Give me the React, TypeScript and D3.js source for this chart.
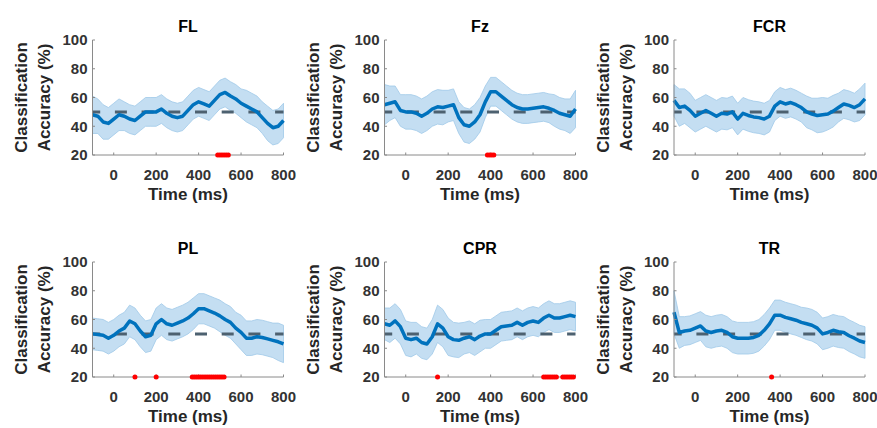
import React from 'react';
import * as d3 from 'd3';

// time grid of the classifier (ms)
const times = [-100, -75, -50, -25, 0, 25, 50, 75, 100, 125, 150, 175, 200, 225, 250, 275, 300, 325, 350,
  375, 400, 425, 450, 475, 500, 525, 550, 575, 600, 625, 650, 675, 700, 725, 750, 775, 800];

const names = ['FL', 'Fz', 'FCR', 'PL', 'CPR', 'TR'];

// mean accuracy (%)
const meanFL = [48, 47, 43, 42, 45, 48, 47, 45, 44, 47, 50, 50, 50, 52, 49, 47, 46, 47, 51,
  55, 57, 55.5, 54, 58, 62, 63.5, 61, 59, 56, 54, 52, 50, 46, 42, 39, 40, 44];
const meanFz = [55, 56, 57, 51, 50, 50, 49, 47, 49, 52, 53.5, 53, 54, 55, 46, 41, 40, 43, 48,
  57, 64, 64, 61, 58, 55, 53, 52, 52, 52.5, 53, 53.5, 52.5, 51, 49, 48, 47, 52];
const meanFCR = [58, 53, 54, 51, 47, 49, 51, 49, 47, 49, 48.5, 50, 45, 49, 47.5, 46.5, 46, 45, 47,
  54, 57, 55.5, 56.5, 55, 53, 50, 48.5, 47.5, 48, 48.5, 50.5, 53, 55.5, 54.5, 53, 55, 59];
const meanPL = [50, 49.5, 49, 47, 49, 52, 54, 59, 57, 52, 48, 49, 57, 60, 57, 56, 57.5, 59, 61,
  64, 67.5, 67.5, 66, 64.5, 62.5, 60, 58, 54, 51, 47, 47, 48, 47.5, 46.5, 45.5, 44.5, 43];
const meanCPR = [57, 56, 59, 55, 47, 46, 47, 44, 43, 48, 57, 54, 48, 46, 45.5, 47, 48, 46, 48.5,
  50, 50, 52.5, 55, 55.5, 56, 58, 56, 58, 59, 58, 61, 63, 61, 61, 62, 63, 62];
const meanTR = [65, 51, 52, 52.5, 54, 55.5, 52, 51, 52, 52.5, 51, 48, 47, 47, 47, 47.5, 49, 52.5, 57,
  63, 63, 61.5, 60.5, 59.5, 58, 57, 56, 54, 50, 51, 52.5, 51.5, 51, 48.7, 47, 45, 44];

// half width of the shaded band (%)
const errFL = [13, 12, 12, 11, 11, 11, 10, 10, 10, 10, 10, 10, 10, 10, 10, 10, 10, 10, 10,
  10, 10, 10, 10, 10, 10, 10, 10, 10, 10, 11, 11, 11, 11, 12, 12, 12, 12];
const errFz = [14, 12, 11, 11, 12, 12, 12, 12, 12, 12, 12, 12, 11, 11, 11, 12, 12, 12, 12,
  11, 10, 10, 10, 10, 10, 10, 10, 10, 10, 10, 10, 10, 11, 11, 11, 12, 13];
const errFCR = [11, 13, 12, 12, 11, 11, 11, 11, 11, 11, 11, 11, 11, 11, 11, 11, 11, 11, 11,
  10, 10, 10, 10, 10, 10, 11, 11, 12, 12, 11, 11, 10, 10, 10, 10, 11, 11];
const errPL = [11, 11, 11, 11, 11, 11, 11, 11, 11, 11, 11, 11, 11, 11, 11, 11, 11, 11, 11,
  11, 10.5, 10.5, 10.5, 10.5, 11, 11, 11, 11, 12, 12, 12, 12, 12, 12, 12, 13, 13];
const errCPR = [11, 12, 12, 12, 12, 12, 11, 11, 11, 12, 13, 13, 13, 12, 12, 11, 11, 11, 11,
  10, 10, 10, 10, 10, 10, 10, 10, 10, 10, 10, 10, 10, 10, 10, 10, 10, 10];
const errTR = [15, 11, 10, 10, 10, 10, 11, 11, 11, 11, 11, 11, 11, 11, 11, 11, 11, 11, 11,
  10.5, 10.5, 10.5, 10.5, 10.5, 10.5, 11, 11, 11, 11, 11, 11, 11, 11, 11, 11, 11, 11];

// time points marked significant (red dots)
const sigFL = [490, 500, 510, 520, 530, 540];
const sigFz = [385, 395, 405, 415];
const sigFCR: number[] = [];
const sigPL = [100, 200, 370, 380, 390, 400, 410, 420, 430, 440, 450, 460, 470, 480, 490, 500, 510, 520];
const sigCPR = [150, 650, 660, 670, 680, 690, 700, 710, 740, 750, 760, 770, 780, 790];
const sigTR = [360];

const xTicks = [0, 200, 400, 600, 800];
const yTicks = [20, 40, 60, 80, 100];

const means = [meanFL, meanFz, meanFCR, meanPL, meanCPR, meanTR];
const errs = [errFL, errFz, errFCR, errPL, errCPR, errTR];
const sigs = [sigFL, sigFz, sigFCR, sigPL, sigCPR, sigTR];

const colLeft = [92.5, 384.5, 674];
const rowTop = [40, 262];
const w = 191;
const h = 115;
const font = '"Liberation Sans", Arial, sans-serif';

const Panel = ({ idx }: { idx: number }) => {
  const x = d3.scaleLinear().domain([-100, 800]).range([0, w]);
  const y = d3.scaleLinear().domain([20, 100]).range([h, 0]);
  const m = means[idx];
  const e = errs[idx];
  const rows = times.map((t, i) => ({ t, m: m[i], e: e[i] }));

  const area = d3.area<any>()
    .x((d) => x(d.t))
    .y0((d) => y(d.m - d.e))
    .y1((d) => y(d.m + d.e));
  const line = d3.line<any>().x((d) => x(d.t)).y((d) => y(d.m));

  const left = colLeft[idx % 3];
  const top = rowTop[Math.floor(idx / 3)];

  return (
    <g transform={`translate(${left},${top})`} fontFamily={font}>
      <path d={area(rows) || ''} fill="#c4def2" stroke="#9fc9e8" strokeWidth={0.8} />
      <line x1={0} x2={w} y1={y(50)} y2={y(50)} stroke="#4d6170" strokeWidth={3}
        strokeDasharray="12,14.7" strokeDashoffset={4.3} />
      <path d={line(rows) || ''} fill="none" stroke="#0072BD" strokeWidth={3.5} strokeLinejoin="round" />

      {/* axes */}
      <line x1={0} x2={w} y1={h} y2={h} stroke="#8a8a8a" strokeWidth={1} />
      <line x1={0} x2={0} y1={0} y2={h} stroke="#8a8a8a" strokeWidth={1} />
      {xTicks.map((t) => (
        <g key={'x' + t}>
          <line x1={x(t)} x2={x(t)} y1={h} y2={h - 2.5} stroke="#8a8a8a" />
          <text x={x(t)} y={h + 24.5} textAnchor="middle" fontSize={15} fontWeight="bold" fill="#333">{t}</text>
        </g>
      ))}
      {yTicks.map((v) => (
        <g key={'y' + v}>
          <line x1={0} x2={2.5} y1={y(v)} y2={y(v)} stroke="#8a8a8a" />
          <text x={-5} y={y(v)} dy="0.36em" textAnchor="end" fontSize={15} fontWeight="bold" fill="#333">{v}</text>
        </g>
      ))}

      {sigs[idx].map((t, i) => (
        <circle key={'s' + i} cx={x(t)} cy={y(20)} r={2.5} fill="#ff0000" />
      ))}

      <text x={w / 2} y={-8.5} textAnchor="middle" fontSize={16} fontWeight="bold" fill="#000">{names[idx]}</text>
      <text x={w / 2} y={h + 45} textAnchor="middle" fontSize={17} fontWeight="bold" fill="#262626">Time (ms)</text>
      <text transform={`translate(${-65.5},${h / 2}) rotate(-90)`} textAnchor="middle" fontSize={17}
        fontWeight="bold" fill="#262626">Classification</text>
      <text transform={`translate(${-42.5},${h / 2}) rotate(-90)`} textAnchor="middle" fontSize={17}
        fontWeight="bold" fill="#262626">Accuracy (%)</text>
    </g>
  );
};

const App = () => (
  <svg width={877} height={428} style={{ position: 'absolute', left: 0, top: 0, background: '#fff' }}>
    <rect width={877} height={428} fill="#fff" />
    {names.map((n, i) => <Panel key={n} idx={i} />)}
  </svg>
);

export default App;
